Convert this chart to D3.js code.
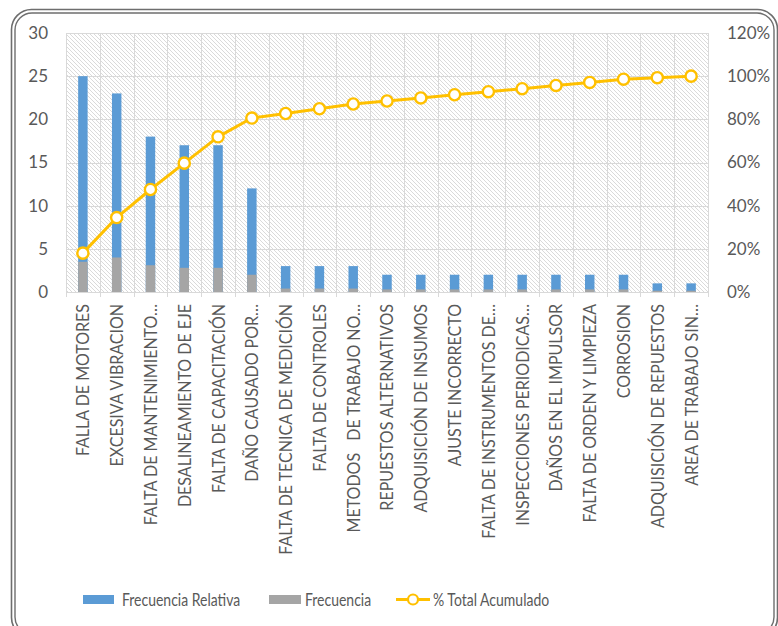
<!DOCTYPE html>
<html>
<head>
<meta charset="utf-8">
<script src="https://cdn.jsdelivr.net/npm/d3@7/dist/d3.min.js"></script>
<style>
  html, body { margin: 0; padding: 0; background: #ffffff; }
  svg { display: block; }
  text { font-family: Lato, "Open Sans", sans-serif; fill: #595959; }
</style>
</head>
<body>
<svg id="chart" width="778" height="626"></svg>
<script>
// Causas de falla, ordenadas de mayor a menor
const categorias = [
  "FALLA DE MOTORES",
  "EXCESIVA VIBRACION",
  "FALTA DE MANTENIMIENTO…",
  "DESALINEAMIENTO DE EJE",
  "FALTA DE CAPACITACIÓN",
  "DAÑO CAUSADO POR…",
  "FALTA DE TECNICA DE MEDICIÓN",
  "FALTA DE CONTROLES",
  "METODOS   DE TRABAJO NO…",
  "REPUESTOS ALTERNATIVOS",
  "ADQUISICIÓN DE INSUMOS",
  "AJUSTE INCORRECTO",
  "FALTA DE INSTRUMENTOS DE…",
  "INSPECCIONES PERIODICAS…",
  "DAÑOS EN EL IMPULSOR",
  "FALTA DE ORDEN Y LIMPIEZA",
  "CORROSION",
  "ADQUISICIÓN DE REPUESTOS",
  "AREA DE TRABAJO SIN…"
];

// Serie azul
const frecuenciaRelativa = [25, 23, 18, 17, 17, 12, 3, 3, 3, 2, 2, 2, 2, 2, 2, 2, 2, 1, 1];
// Serie gris
const frecuencia = [3.5, 4.0, 3.1, 2.8, 2.8, 2.0, 0.4, 0.4, 0.4, 0.3, 0.3, 0.3, 0.3, 0.3, 0.3, 0.3, 0.3, 0.15, 0.15];
// % Total Acumulado (fracción)
const acumulado = [0.180, 0.345, 0.475, 0.597, 0.719, 0.806, 0.827, 0.849, 0.871, 0.885, 0.899, 0.914, 0.928, 0.942, 0.957, 0.971, 0.986, 0.993, 1.000];

const ticksIzq = [0, 5, 10, 15, 20, 25, 30];
const ticksDer = [0, 0.2, 0.4, 0.6, 0.8, 1.0, 1.2];

const leyenda = ["Frecuencia Relativa", "Frecuencia", "% Total Acumulado"];

const colores = { azul: "#5B9BD5", gris: "#A5A5A5", naranja: "#FFC000", grid: "#D9D9D9" };

const svg = d3.select("#chart");
const plot = { left: 66, right: 708, top: 33, bottom: 292 };

// Marco exterior con doble línea
svg.append("rect").attr("x", 11.5).attr("y", 9.5).attr("width", 766).attr("height", 628)
  .attr("rx", 20).attr("fill", "#fff").attr("stroke", "#6e6e6e").attr("stroke-width", 1.6);
svg.append("rect").attr("x", 15).attr("y", 13).attr("width", 759).attr("height", 621)
  .attr("rx", 17).attr("fill", "none").attr("stroke", "#6e6e6e").attr("stroke-width", 1.4);

// Trama diagonal del área de trazado
const defs = svg.append("defs");
const pat = defs.append("pattern").attr("id", "trama").attr("patternUnits", "userSpaceOnUse")
  .attr("width", 4).attr("height", 4);
pat.append("rect").attr("width", 4).attr("height", 4).attr("fill", "#ffffff");
pat.append("path").attr("d", "M-1,-1 L5,5 M-1,3 L1,5 M3,-1 L5,1")
  .attr("stroke", "#d6d6d6").attr("stroke-width", 0.9);

svg.append("rect").attr("x", plot.left).attr("y", plot.top)
  .attr("width", plot.right - plot.left).attr("height", plot.bottom - plot.top)
  .attr("fill", "url(#trama)");

const x = d3.scaleBand().domain(categorias).range([plot.left, plot.right]).paddingInner(0).paddingOuter(0);
const y = d3.scaleLinear().domain([0, 30]).range([plot.bottom, plot.top]);
const y2 = d3.scaleLinear().domain([0, 1.2]).range([plot.bottom, plot.top]);

// Rejilla horizontal
svg.append("g").selectAll("line").data(ticksIzq).join("line")
  .attr("x1", plot.left).attr("x2", plot.right)
  .attr("y1", d => Math.round(y(d)) + 0.5).attr("y2", d => Math.round(y(d)) + 0.5)
  .attr("stroke", colores.grid).attr("stroke-width", 1);

// Rejilla vertical entre categorías
const bordes = categorias.map(c => x(c)).concat([plot.right]);
svg.append("g").selectAll("line").data(bordes).join("line")
  .attr("x1", d => Math.round(d) + 0.5).attr("x2", d => Math.round(d) + 0.5)
  .attr("y1", plot.top).attr("y2", plot.bottom + 5)
  .attr("stroke", colores.grid).attr("stroke-width", 1);

// Barras
const anchoBarra = x.bandwidth() * 0.28;
svg.append("g").selectAll("rect").data(frecuenciaRelativa).join("rect")
  .attr("x", (d, i) => x(categorias[i]) + (x.bandwidth() - anchoBarra) / 2)
  .attr("y", d => y(d)).attr("width", anchoBarra).attr("height", d => y(0) - y(d))
  .attr("fill", colores.azul);
svg.append("g").selectAll("rect").data(frecuencia).join("rect")
  .attr("x", (d, i) => x(categorias[i]) + (x.bandwidth() - anchoBarra) / 2)
  .attr("y", d => y(d)).attr("width", anchoBarra).attr("height", d => y(0) - y(d))
  .attr("fill", colores.gris);

// Eje izquierdo
const ejeIzq = d3.axisLeft(y).tickValues(ticksIzq).tickSize(0).tickPadding(18);
const gIzq = svg.append("g").attr("transform", `translate(${plot.left},0)`).call(ejeIzq);
gIzq.select(".domain").remove();
gIzq.selectAll("text").attr("font-size", 17).style("font-family", "Lato, sans-serif").attr("fill", "#595959");

// Eje derecho
const ejeDer = d3.axisRight(y2).tickValues(ticksDer).tickSize(0).tickPadding(19).tickFormat(d3.format(".0%"));
const gDer = svg.append("g").attr("transform", `translate(${plot.right},0)`).call(ejeDer);
gDer.select(".domain").remove();
gDer.selectAll("text").attr("font-size", 17).style("font-family", "Lato, sans-serif").attr("fill", "#595959");

// Eje de categorías (texto vertical, algo estrecho)
const ejeX = d3.axisBottom(x).tickSize(0).tickPadding(0);
const gX = svg.append("g").attr("transform", `translate(0,${plot.bottom})`).call(ejeX);
gX.select(".domain").attr("stroke", colores.grid).attr("d", `M${plot.left},0.5H${plot.right}`);
gX.selectAll(".tick text")
  .attr("transform", "rotate(-90) scale(0.89,1)")
  .attr("x", -13.5).attr("y", 0).attr("dy", "0.36em")
  .attr("text-anchor", "end")
  .attr("font-size", 18)
  .style("font-family", "Lato, sans-serif")
  .style("white-space", "pre")
  .attr("fill", "#595959");

// Línea del acumulado
const linea = d3.line().x((d, i) => x(categorias[i]) + x.bandwidth() / 2).y(d => y2(d));
svg.append("path").datum(acumulado).attr("d", linea)
  .attr("fill", "none").attr("stroke", colores.naranja).attr("stroke-width", 3).attr("stroke-linejoin", "round");
svg.append("g").selectAll("circle").data(acumulado).join("circle")
  .attr("cx", (d, i) => x(categorias[i]) + x.bandwidth() / 2).attr("cy", d => y2(d))
  .attr("r", 5.6).attr("fill", "#fff").attr("stroke", colores.naranja).attr("stroke-width", 2.4);

// Leyenda
const gL = svg.append("g").attr("font-size", 17.5);
gL.append("rect").attr("x", 83).attr("y", 595).attr("width", 31).attr("height", 9).attr("fill", colores.azul);
gL.append("text").attr("transform", "translate(122,605.5) scale(0.8,1)").text(leyenda[0]);
gL.append("rect").attr("x", 269).attr("y", 595).attr("width", 32).attr("height", 9).attr("fill", colores.gris);
gL.append("text").attr("transform", "translate(305,605.5) scale(0.8,1)").text(leyenda[1]);
gL.append("line").attr("x1", 396).attr("x2", 430).attr("y1", 599.5).attr("y2", 599.5)
  .attr("stroke", colores.naranja).attr("stroke-width", 3);
gL.append("circle").attr("cx", 413).attr("cy", 599.5).attr("r", 5).attr("fill", "#fff")
  .attr("stroke", colores.naranja).attr("stroke-width", 2.2);
gL.append("text").attr("transform", "translate(433,605.5) scale(0.8,1)").text(leyenda[2]);
</script>
</body>
</html>
